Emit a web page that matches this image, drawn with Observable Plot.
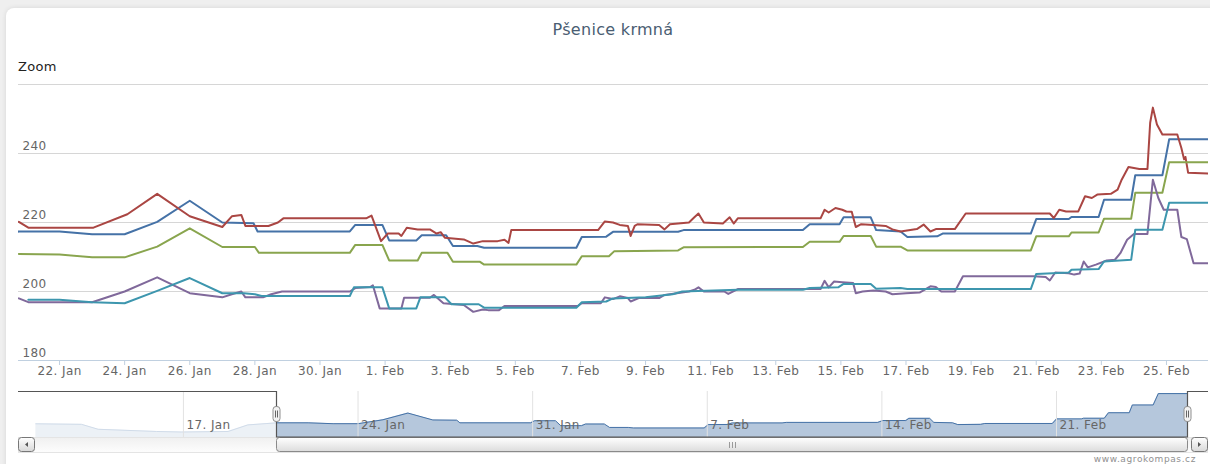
<!DOCTYPE html>
<html><head><meta charset="utf-8">
<script src="https://cdn.jsdelivr.net/npm/d3@7"></script>
<script src="https://cdn.jsdelivr.net/npm/@observablehq/plot@0.6"></script>
<style>
html,body{margin:0;padding:0;width:1210px;height:464px;overflow:hidden;background:#efefef;font-family:"DejaVu Sans",Verdana,sans-serif;}
#card{position:absolute;left:6px;top:8px;width:1230px;height:480px;background:#fff;border-radius:8px;box-shadow:0 0 5px rgba(0,0,0,0.10);}
#title{position:absolute;left:0;width:1226px;top:20px;text-align:center;font-size:16px;color:#4a5d72;letter-spacing:0.3px;}
#zoom{position:absolute;left:18px;top:59px;font-size:13px;color:#222;letter-spacing:0.3px;}
#main{position:absolute;left:0;top:0;}
#nav{position:absolute;left:0;top:380px;}
#credit{position:absolute;right:14px;top:454px;font-size:9px;color:#909090;letter-spacing:0.6px;}
svg text{letter-spacing:0.4px;}
</style></head>
<body>
<div id="card"></div>
<div id="title">Pšenice krmná</div>
<div id="zoom">Zoom</div>
<div id="main"></div>
<div id="nav"></div>
<div id="credit">www.agrokompas.cz</div>
<script>
// ---- data (2013, time "MM-DD HH", value) ----
const seriesNames = ["blue", "red", "green", "purple", "teal"];
const seriesColors = ["#4572A7", "#AA4643", "#89A54E", "#80699B", "#3D96AE"];

const blueData = [
  ["01-11 02",216.5],["01-12 22",216.0],["01-13 14",211.5],["01-15 22",209.5],["01-16 22",209.0],
  ["01-18 19",209.5],["01-19 14",215.5],["01-20 18",217.4],
  ["01-22 00",217.4],["01-23 00",216.6],["01-24 00",216.6],["01-25 00",220.2],["01-26 00",226.3],
  ["01-27 00",220.0],["01-27 23",219.8],["01-28 02",217.4],["01-30 22",217.4],["01-31 02",219.3],
  ["01-31 22",219.3],["02-01 03",214.8],["02-01 23",214.8],["02-02 03",216.3],["02-02 21",216.3],
  ["02-03 02",213.2],["02-03 20",213.2],["02-04 01",212.7],["02-06 21",212.7],["02-07 01",215.8],
  ["02-07 19",215.9],["02-08 00",217.3],["02-10 00",217.3],["02-10 04",217.8],["02-13 20",217.8],
  ["02-14 01",219.5],["02-14 23",219.5],["02-15 02",221.5],["02-15 22",221.5],["02-16 02",217.8],
  ["02-16 20",217.4],["02-17 01",215.8],["02-17 23",216.0],["02-18 03",216.8],["02-20 20",216.8],
  ["02-21 00",221.0],["02-22 00",221.0],["02-22 02",221.6],["02-22 22",221.6],["02-23 02",226.6],
  ["02-23 22",226.6],["02-24 01",233.7],["02-24 21",233.7],["02-25 02",244.1],["02-26 08",244.1]
];
const redData = [
  ["01-20 18",220.2],["01-21 01",218.5],["01-23 01",218.5],["01-24 02",222.4],["01-25 00",228.3],
  ["01-26 00",221.8],["01-27 00",218.7],["01-27 07",221.8],["01-27 14",222.2],["01-27 17",219.0],
  ["01-28 10",219.0],["01-28 17",220.0],["01-28 21",221.2],["01-31 10",221.2],["01-31 14",222.0],
  ["01-31 21",214.6],["02-01 02",216.8],["02-01 10",216.8],["02-01 12",216.1],["02-01 16",218.5],
  ["02-02 00",218.0],["02-02 09",218.0],["02-02 14",216.8],["02-02 17",217.2],["02-02 20",215.6],
  ["02-03 10",215.1],["02-03 17",213.9],["02-04 00",214.6],["02-04 11",214.6],["02-04 16",215.0],
  ["02-04 19",214.1],["02-04 21",217.8],["02-07 13",217.8],["02-07 18",220.3],["02-08 00",220.0],
  ["02-08 05",219.3],["02-08 11",219.0],["02-08 13",216.1],["02-08 16",219.0],["02-08 18",219.5],
  ["02-09 10",219.3],["02-09 14",218.0],["02-09 18",219.5],["02-10 08",220.0],["02-10 12",221.5],
  ["02-10 15",222.6],["02-10 19",220.0],["02-11 09",219.7],["02-11 14",221.5],["02-11 17",219.7],
  ["02-11 20",221.2],["02-14 09",221.2],["02-14 12",223.7],["02-14 15",222.9],["02-14 20",224.2],
  ["02-15 01",223.7],["02-15 04",223.2],["02-15 08",223.1],["02-15 11",218.7],["02-15 15",219.5],
  ["02-16 00",219.3],["02-16 09",219.0],["02-16 14",218.0],["02-16 20",217.4],["02-17 08",218.1],
  ["02-17 13",219.4],["02-17 18",217.4],["02-17 22",218.1],["02-18 12",218.1],["02-18 20",222.6],
  ["02-21 10",222.6],["02-21 13",221.3],["02-21 17",223.7],["02-21 22",223.2],["02-22 07",223.2],
  ["02-22 12",227.6],["02-22 17",227.1],["02-22 21",228.1],["02-23 07",228.3],["02-23 12",229.5],
  ["02-23 15",232.4],["02-23 20",236.1],["02-24 04",235.5],["02-24 10",235.5],["02-24 12",248.9],
  ["02-24 14",253.3],["02-24 17",248.4],["02-24 21",245.5],["02-25 08",245.5],["02-25 11",241.6],
  ["02-25 13",238.3],["02-25 14",239.0],["02-25 16",234.4],["02-26 08",234.2]
];
const greenData = [
  ["01-20 18",210.9],["01-22 00",210.7],["01-23 00",209.9],["01-24 00",209.9],["01-25 00",213.0],
  ["01-26 00",218.3],["01-27 00",212.9],["01-28 00",212.9],["01-28 03",211.2],["01-30 22",211.2],
  ["01-31 02",213.5],["01-31 22",213.5],["02-01 03",209.0],["02-02 00",209.0],["02-02 03",211.2],
  ["02-02 22",211.2],["02-03 02",208.6],["02-03 22",208.6],["02-04 01",207.8],["02-06 21",207.8],
  ["02-07 01",210.2],["02-07 21",210.2],["02-08 01",211.7],["02-10 00",211.9],["02-10 04",212.8],
  ["02-13 20",212.9],["02-14 01",214.4],["02-14 23",214.4],["02-15 02",216.1],["02-15 22",216.1],
  ["02-16 02",213.0],["02-16 20",213.0],["02-17 01",211.9],["02-20 20",211.9],["02-21 00",216.0],
  ["02-22 00",216.0],["02-22 02",217.1],["02-22 22",217.1],["02-23 02",221.1],["02-23 22",221.1],
  ["02-24 01",228.6],["02-24 21",228.6],["02-25 02",237.5],["02-26 08",237.5]
];
const purpleData = [
  ["01-20 18",198.0],["01-21 01",196.9],["01-23 00",196.9],["01-24 00",200.0],["01-25 00",204.1],
  ["01-26 00",199.5],["01-27 00",198.3],["01-27 07",199.2],["01-27 14",200.0],["01-27 17",198.3],
  ["01-28 06",198.3],["01-28 12",199.2],["01-28 20",200.0],["01-30 22",200.0],["01-31 02",201.0],
  ["01-31 13",201.3],["01-31 15",201.8],["01-31 20",195.1],["02-01 12",195.1],["02-01 14",198.2],
  ["02-02 09",198.2],["02-02 12",199.0],["02-02 19",196.6],["02-03 10",196.1],["02-03 17",194.1],
  ["02-04 00",194.8],["02-04 04",194.6],["02-04 12",194.6],["02-04 16",195.8],["02-06 22",195.8],
  ["02-07 01",196.6],["02-07 15",196.6],["02-07 18",198.3],["02-08 00",197.8],["02-08 05",198.6],
  ["02-08 11",198.1],["02-08 13",197.1],["02-08 19",198.1],["02-09 10",198.1],["02-09 14",199.0],
  ["02-09 18",199.2],["02-10 08",200.0],["02-10 12",200.5],["02-10 15",201.2],["02-10 19",200.0],
  ["02-11 10",200.0],["02-11 13",199.3],["02-11 20",200.7],["02-14 09",200.7],["02-14 12",203.1],
  ["02-14 15",201.2],["02-14 19",202.9],["02-15 01",202.7],["02-15 09",202.5],["02-15 11",199.5],
  ["02-15 16",200.0],["02-16 00",200.3],["02-16 09",200.0],["02-16 14",199.2],["02-17 00",199.5],
  ["02-17 10",199.7],["02-17 18",201.5],["02-17 22",201.3],["02-18 02",200.0],["02-18 12",200.0],
  ["02-18 18",204.4],["02-20 22",204.4],["02-21 07",204.2],["02-21 10",203.2],["02-21 14",205.5],
  ["02-22 00",205.3],["02-22 04",204.9],["02-22 08",205.2],["02-22 11",208.7],["02-22 14",207.0],
  ["02-22 20",207.8],["02-23 04",209.0],["02-23 10",209.2],["02-23 14",211.1],["02-23 19",215.0],
  ["02-24 00",216.7],["02-24 10",216.7],["02-24 14",232.4],["02-24 18",227.1],["02-24 22",223.7],
  ["02-25 08",223.7],["02-25 11",215.8],["02-25 15",215.2],["02-25 20",208.2],["02-26 08",208.2]
];
const tealData = [
  ["01-21 01",197.6],["01-22 00",197.6],["01-23 00",196.9],["01-24 00",196.6],["01-25 00",200.2],
  ["01-26 00",203.9],["01-27 00",199.5],["01-27 16",199.5],["01-28 00",199.2],["01-28 05",198.7],
  ["01-30 22",198.7],["01-31 01",201.2],["01-31 22",201.2],["02-01 03",195.1],["02-01 23",195.1],
  ["02-02 02",198.3],["02-02 20",198.3],["02-03 01",196.3],["02-03 21",196.3],["02-04 01",195.3],
  ["02-06 21",195.3],["02-07 01",196.9],["02-07 19",197.1],["02-08 00",198.0],["02-09 00",198.3],
  ["02-09 20",199.2],["02-10 03",200.0],["02-11 20",200.5],["02-13 20",200.5],["02-14 01",201.0],
  ["02-14 22",201.2],["02-15 02",202.2],["02-15 22",202.2],["02-16 02",200.8],["02-16 20",201.0],
  ["02-17 01",200.7],["02-20 20",200.7],["02-21 00",205.1],["02-22 00",205.5],["02-22 02",206.3],
  ["02-22 22",206.5],["02-23 02",208.7],["02-23 22",209.2],["02-24 01",217.9],["02-24 21",217.9],
  ["02-25 02",225.7],["02-26 08",225.7]
];

const yGrid = [200, 220, 240, 260];
const yLabels = [180, 200, 220, 240];
const xTicks = ["01-22 00","01-24 00","01-26 00","01-28 00","01-30 00","02-01 00","02-03 00","02-05 00",
  "02-07 00","02-09 00","02-11 00","02-13 00","02-15 00","02-17 00","02-19 00","02-21 00","02-23 00","02-25 00"];
const navTicks = ["01-17 00","01-24 00","01-31 00","02-07 00","02-14 00","02-21 00"];
const mainRange = ["01-20 17.75", "02-26 07"];
const navRange = ["01-10 09.33", "02-26 07"];
const navY = [204, 246];

// ---- helpers ----
const P = s => { const [md, h] = s.split(" "); const [m, d] = md.split("-").map(Number);
  return new Date(Date.UTC(2013, m - 1, d) + (+h) * 3600e3); };
const rowsOf = arr => arr.map(([t, v]) => ({date: P(t), value: v}));
const allData = [blueData, redData, greenData, purpleData, tealData].map(rowsOf);
const fmt = d3.utcFormat("%-d. %b");
const mainStart = P(mainRange[0]), mainEnd = P(mainRange[1]);
const navStart = P(navRange[0]), navEnd = P(navRange[1]);
const font = "'DejaVu Sans', Verdana, sans-serif";

// ---- main chart ----
const main = Plot.plot({
  width: 1210, height: 386,
  marginLeft: 18, marginRight: 2, marginTop: 84, marginBottom: 26,
  x: {type: "utc", domain: [mainStart, mainEnd]},
  y: {domain: [180, 260], axis: null},
  style: {background: "transparent", fontFamily: font, fontSize: "12px", overflow: "visible"},
  marks: [
    Plot.gridY(yGrid, {stroke: "#d6d6d6", strokeOpacity: 1}),
    Plot.ruleY([180], {stroke: "#C0D0E0"}),
    Plot.axisX({ticks: xTicks.map(P), tickSize: 5, tickPadding: 1, tickFormat: fmt,
      stroke: "#C0D0E0", fill: "#666", fontSize: 12}),
    Plot.text(yLabels, {y: d => d, text: d => String(d), frameAnchor: "left", textAnchor: "start",
      dx: 4, dy: -7, fill: "#666", fontSize: 12}),
    ...allData.map((rows, i) => Plot.line(rows, {x: "date", y: "value", stroke: seriesColors[i],
      strokeWidth: 2, strokeLinejoin: "round", strokeLinecap: "round", clip: true}))
  ]
});
document.getElementById("main").appendChild(main);

// ---- navigator ----
const blueRows = allData[0];
const nav = Plot.plot({
  width: 1210, height: 84,
  marginLeft: 18, marginRight: 22, marginTop: 11, marginBottom: 27,
  x: {type: "utc", domain: [navStart, navEnd], axis: null},
  y: {domain: navY, axis: null},
  style: {background: "transparent", fontFamily: font, fontSize: "12px", overflow: "visible"},
  marks: [
    Plot.areaY(blueRows, {x: "date", y: "value", fill: "#4572A7", fillOpacity: 0.4, clip: true}),
    Plot.line(blueRows, {x: "date", y: "value", stroke: "#4572A7", strokeWidth: 1, clip: true}),
    Plot.rect([0], {x1: () => navStart, x2: () => mainStart, fill: "white", fillOpacity: 0.75}),
    Plot.ruleX(navTicks.map(P), {stroke: "#e2e2e2"}),
    Plot.text(navTicks.map(P), {x: d => d, text: d => fmt(d), frameAnchor: "bottom", textAnchor: "start",
      dx: 3, dy: -9, fill: "#666", fontSize: 12})
  ]
});
document.getElementById("nav").appendChild(nav);

// navigator chrome (outline, handles, scrollbar) positioned through the nav x scale
(function () {
  const sx = nav.scale("x"), sy = nav.scale("y");
  const hx1 = Math.round(sx.apply(mainStart)) + 0.5, hx2 = Math.round(sx.apply(mainEnd)) - 0.5;
  const yTop = Math.round(sy.apply(navY[1])) + 0.5, yBot = Math.round(sy.apply(navY[0]));
  const xL = 18, xR = 1208;
  const svg = d3.select(nav);
  const defs = svg.append("defs");
  function grad(id, a, b) {
    const gr = defs.append("linearGradient").attr("id", id).attr("x1", 0).attr("y1", 0).attr("x2", 0).attr("y2", 1);
    gr.append("stop").attr("offset", "0%").attr("stop-color", a);
    gr.append("stop").attr("offset", "100%").attr("stop-color", b);
  }
  grad("trk", "#f0f0f0", "#fdfdfd");
  grad("btn", "#ffffff", "#d8d8d8");
  grad("thm", "#ffffff", "#dcdcdc");
  const g = svg.append("g");
  g.append("rect").attr("x", xL + 0.5).attr("y", yBot + 0.5).attr("width", xR - xL - 1).attr("height", 15)
    .attr("fill", "url(#trk)").attr("stroke", "#e4e4e4");
  g.append("rect").attr("x", hx1).attr("y", yBot + 0.5).attr("width", hx2 - hx1).attr("height", 14).attr("rx", 3)
    .attr("fill", "url(#thm)").attr("stroke", "#8a8a8a");
  const cx = Math.round((hx1 + hx2) / 2);
  [-3, 0, 3].forEach(o => g.append("line").attr("x1", cx + o + 0.5).attr("x2", cx + o + 0.5)
    .attr("y1", yBot + 5).attr("y2", yBot + 11).attr("stroke", "#9a9a9a"));
  function button(x, dir) {
    g.append("rect").attr("x", x + 0.5).attr("y", yBot + 0.5).attr("width", 16).attr("height", 14).attr("rx", 3)
      .attr("fill", "url(#btn)").attr("stroke", "#777");
    const c = x + 8.5, m = yBot + 7.5;
    g.append("path").attr("d", dir < 0 ? `M${c + 1.5},${m - 2.5}L${c - 1.5},${m}L${c + 1.5},${m + 2.5}Z`
                                       : `M${c - 1.5},${m - 2.5}L${c + 1.5},${m}L${c - 1.5},${m + 2.5}Z`)
      .attr("fill", "#555");
  }
  button(xL, -1);
  button(xR - 17, 1);
  g.append("path").attr("d", `M${xL},${yTop}L${hx1},${yTop}L${hx1},${yBot}L${hx2},${yBot}L${hx2},${yTop}L${xR},${yTop}`)
    .attr("fill", "none").attr("stroke", "#555").attr("stroke-width", 1.2);
  [hx1, hx2].forEach(h => {
    const hy = 26;
    g.append("rect").attr("x", h - 3.5).attr("y", hy + 0.5).attr("width", 7).attr("height", 15).attr("rx", 3)
      .attr("fill", "#f2f2f2").attr("stroke", "#909090");
    [-1, 1].forEach(o => g.append("line").attr("x1", h + o).attr("x2", h + o).attr("y1", hy + 4.5).attr("y2", hy + 11.5)
      .attr("stroke", "#666"));
  });
})();
</script>
</body></html>
